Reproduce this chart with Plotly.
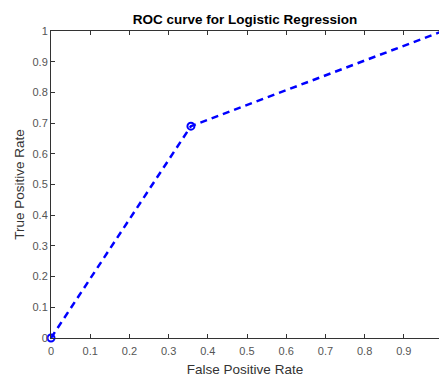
import plotly.graph_objects as go

fpr = [0.0, 0.357, 1.0]
tpr = [0.0, 0.69, 1.0]
x_ticks = [0, 0.1, 0.2, 0.3, 0.4, 0.5, 0.6, 0.7, 0.8, 0.9, 1.0]
x_tick_labels = ["0", "0.1", "0.2", "0.3", "0.4", "0.5", "0.6", "0.7", "0.8", "0.9", "1"]
y_ticks = [0, 0.1, 0.2, 0.3, 0.4, 0.5, 0.6, 0.7, 0.8, 0.9, 1.0]
y_tick_labels = ["0", "0.1", "0.2", "0.3", "0.4", "0.5", "0.6", "0.7", "0.8", "0.9", "1"]

fig = go.Figure()
fig.add_trace(go.Scatter(
    x=fpr, y=tpr, mode="lines+markers",
    line=dict(color="#0000ff", width=2.5, dash="7px,5px"),
    marker=dict(symbol="circle-open", size=7, color="#0000ff", line=dict(width=2, color="#0000ff")),
    cliponaxis=False, showlegend=False,
))

axis_color = "#333333"
font_family = "Liberation Sans, Arial, sans-serif"

fig.update_layout(
    width=439, height=377,
    margin=dict(l=51, r=0, t=31, b=39),
    paper_bgcolor="white", plot_bgcolor="white",
    font=dict(family=font_family, size=11, color=axis_color),
    title=dict(text="<b>ROC curve for Logistic Regression</b>", x=0.5, xref="paper", xanchor="center",
               y=1 - 19 / 377, yref="container", yanchor="middle", font=dict(size=13.5, color="#000000")),
    xaxis=dict(
        range=[0, 388 / 392], tickvals=x_ticks, ticktext=x_tick_labels,
        ticks="inside", ticklen=4, tickcolor=axis_color, showline=True, linecolor=axis_color,
        linewidth=1, mirror="ticks", showgrid=False, zeroline=False, ticklabelstandoff=3,
        title=dict(text="False Positive Rate", font=dict(size=13.5, color="#333333"), standoff=9),
        tickfont=dict(size=11, color="#555555"),
    ),
    yaxis=dict(
        range=[0, 1], tickvals=y_ticks, ticktext=y_tick_labels,
        ticks="inside", ticklen=4, tickcolor=axis_color, showline=True, linecolor=axis_color,
        linewidth=1, showgrid=False, zeroline=False,
        title=dict(text="True Positive Rate", font=dict(size=13.5, color="#333333"), standoff=4),
        tickfont=dict(size=11, color="#555555"),
    ),
)

fig.write_html("out.html", config={"displayModeBar": False},
               post_script="document.body.style.margin='0';document.body.style.overflow='hidden';")
